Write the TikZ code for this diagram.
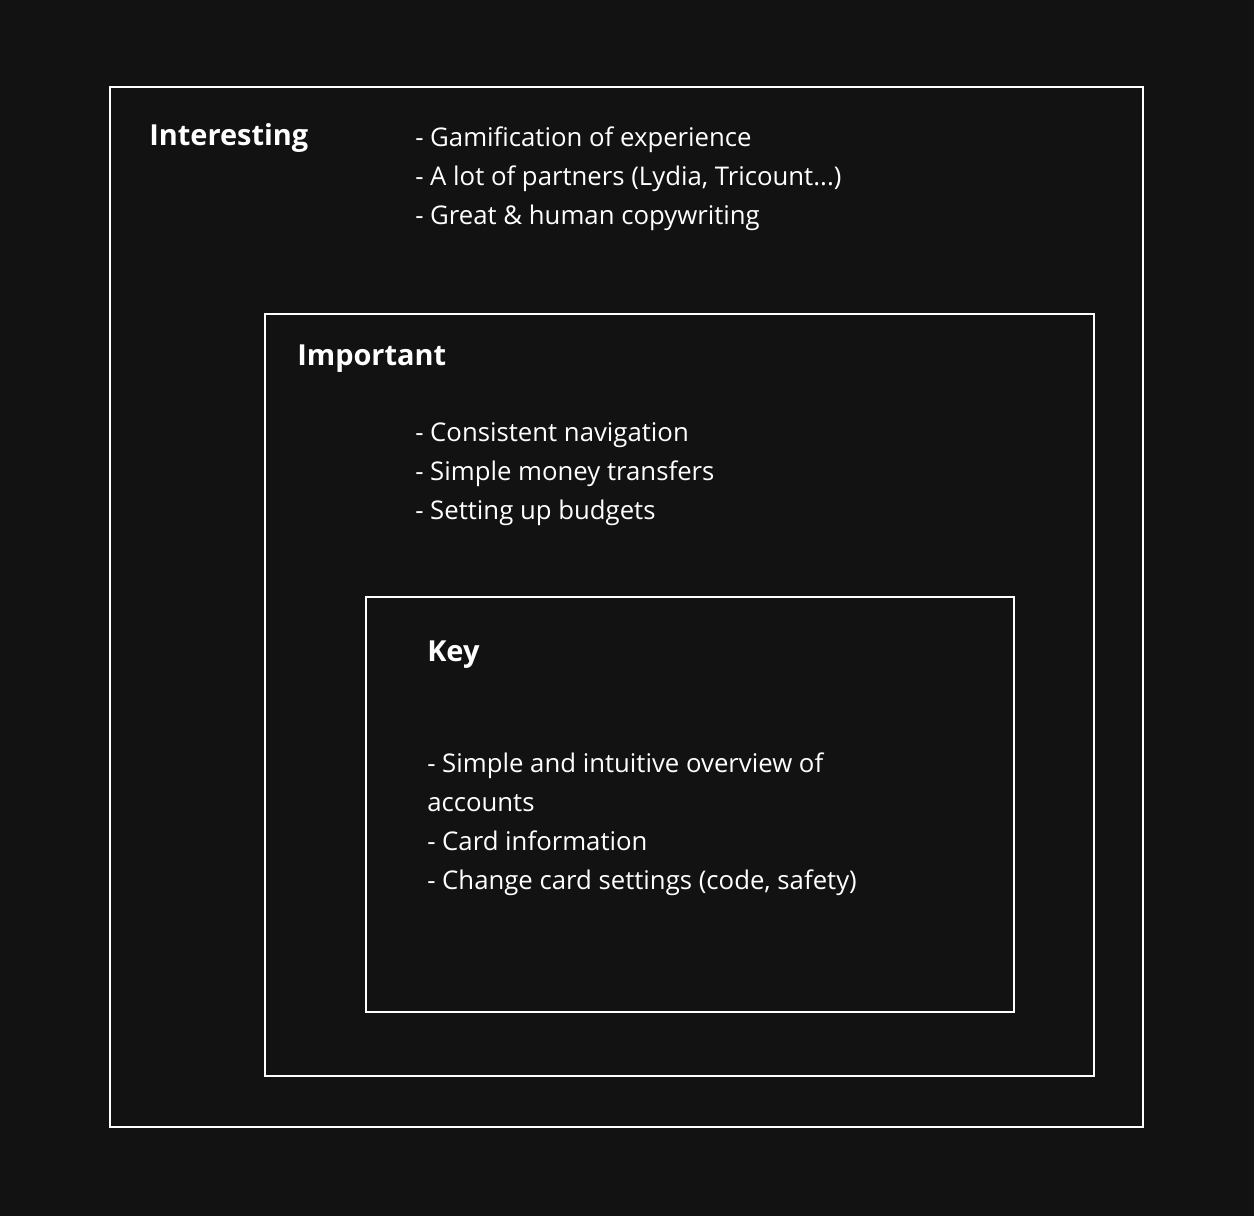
\documentclass[tikz,border=0pt]{standalone}
\usepackage{fontspec}
\setmainfont{Open Sans}
\usepackage{xcolor}
\usepackage{tikz}
\definecolor{bgdark}{HTML}{121212}

\begin{document}
\begin{tikzpicture}[x=0.75pt,y=-0.75pt,
    frame/.style={draw=white,line width=1pt},
    head/.style={anchor=base west,inner sep=0pt,text=white,font=\fontsize{21.7}{28}\selectfont\bfseries},
    items/.style={anchor=base west,inner sep=0pt,text=white,align=left,font=\fontsize{19.3}{29.25}\selectfont}]
      \fill[bgdark] (0,0) rectangle (1254,1216);
      \useasboundingbox (0,0) rectangle (1254,1216);

      % three nested levels
      \draw[frame] (110,87) rectangle (1143,1127);
      \draw[frame] (265,314) rectangle (1094,1076);
      \draw[frame] (366,597) rectangle (1014,1012);

      % lists sit on the baseline of their last line
      \node[head] (int) at (149,146) {Interesting};
      \node[items] (intL) at (415,225) {- Gamification of experience\\- A lot of partners (Lydia, Tricount...)\\- Great \& human copywriting};

      \node[head] (imp) at (297,366) {Important};
      \node[items] (impL) at (415,519) {- Consistent navigation\\- Simple money transfers\\- Setting up budgets};

      \node[head] (key) at (427,661) {Key};
      \node[items] (keyL) at (427,889) {- Simple and intuitive overview of\\accounts\\- Card information\\- Change card settings (code, safety)};
    \end{tikzpicture}
\end{document}
